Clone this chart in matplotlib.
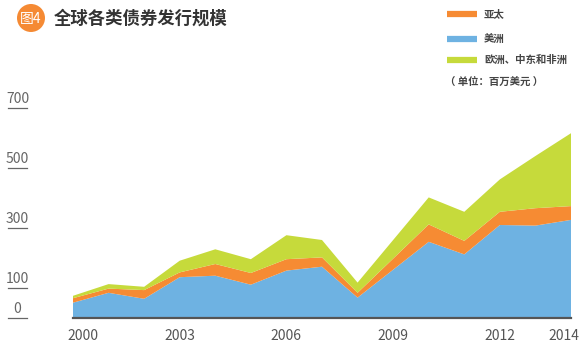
import matplotlib
matplotlib.use("Agg")
import matplotlib.pyplot as plt
from matplotlib.patches import Circle
from matplotlib.lines import Line2D
import matplotlib.transforms as mtransforms

plt.rcParams['font.family'] = ['Noto Sans CJK SC', 'DejaVu Sans']

years = list(range(2000, 2015))
americas = [51, 84, 64, 136, 141, 111, 158, 171, 68, 161, 254, 212, 310, 308, 327]
asia_pac = [15, 14, 29, 16, 39, 39, 38, 31, 16, 37, 58, 45, 44, 58, 46]
emea = [8, 15, 11, 39, 49, 46, 80, 58, 34, 62, 90, 97, 108, 174, 243]

series_names = ['美洲', '亚太', '欧洲、中东和非洲']
colors = ['#6EB2E2', '#F68B33', '#C6DA3B']
legend_order = [1, 0, 2]

xtick_years = [2000, 2003, 2006, 2009, 2012, 2014]
ytick_vals = [0, 100, 300, 500, 700]

W, H = 583, 361
fig = plt.figure(figsize=(W / 100, H / 100), dpi=100)
ax = fig.add_axes([73 / W, 43 / H, (571 - 73) / W, 210 / H])

ax.stackplot(years, americas, asia_pac, emea, colors=colors, linewidth=0)
ax.set_xlim(2000, 2014)
ax.set_ylim(0, 700)
for s in ax.spines.values():
    s.set_visible(False)
ax.set_yticks([])
ax.set_xticks(xtick_years)
ax.set_xticklabels([str(y) for y in xtick_years], fontsize=10, color='#555555',
                   fontweight='light')
ax.tick_params(axis='x', length=0, pad=8)
# end labels sit a bit inward, as in the original
labels = ax.get_xticklabels()
shift = {0: 10, len(labels) - 1: -7}
for i, dx in shift.items():
    labels[i].set_transform(labels[i].get_transform() +
                            mtransforms.ScaledTranslation(dx / 100, 0, fig.dpi_scale_trans))
ax.axhline(0, color='#555555', lw=1.6, clip_on=False)

# y labels with underline, left of the axes
trans = mtransforms.blended_transform_factory(fig.transFigure, ax.transData)
for v in ytick_vals:
    ax.add_line(Line2D([8 / W, 27 / W], [v, v], transform=trans, color='#666666',
                       lw=0.9, clip_on=False))
    ax.text(17.5 / W, v + 8, str(v), transform=trans, ha='center', va='bottom',
            fontsize=10, color='#666666', fontweight='light', clip_on=False)

# title
circ = Circle((31, H - 18), 14, transform=None, facecolor='#F58A34', edgecolor='none')
fig.patches.append(circ)
fig.text(31 / W, 1 - 19 / H, '图4', ha='center', va='center', fontsize=10,
         color='white', fontweight='light')
fig.text(54 / W, 1 - 19 / H, '全球各类债券发行规模', ha='left', va='center',
         fontsize=12.5, fontweight='bold', color='#333333')

# legend
legend_y = [14, 39, 60]
for y, i in zip(legend_y, legend_order):
    fig.add_artist(Line2D([447 / W, 477 / W], [1 - y / H, 1 - y / H],
                          transform=fig.transFigure, color=colors[i], lw=4.5,
                          solid_capstyle='butt'))
    fig.text(484 / W, 1 - y / H, series_names[i], ha='left', va='center',
             fontsize=7.5, fontweight='bold', color='#444444')
fig.text(445 / W, 1 - 82 / H, '（ 单位：百万美元 ）', ha='left', va='center',
         fontsize=7.5, fontweight='bold', color='#444444')

fig.savefig('out.png', dpi=100, facecolor='white')
